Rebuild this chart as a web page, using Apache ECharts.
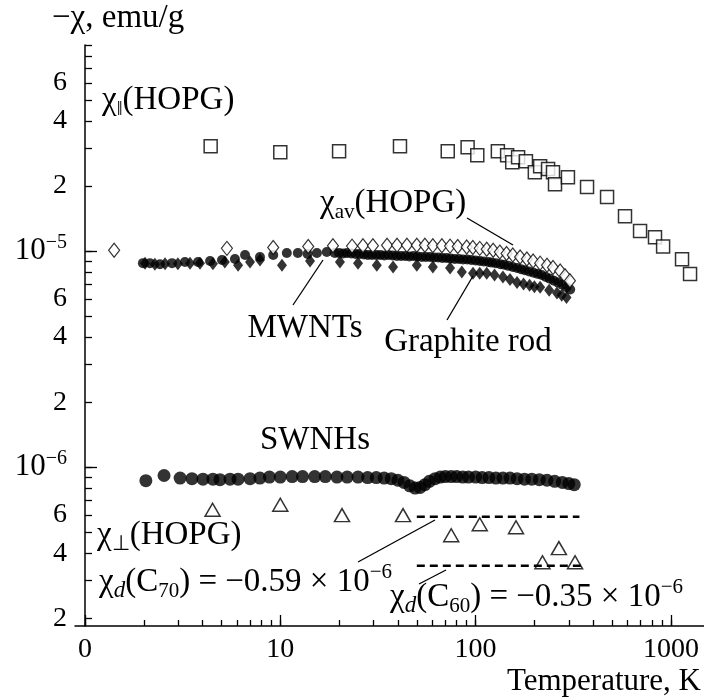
<!DOCTYPE html>
<html><head><meta charset="utf-8">
<script src="https://cdn.jsdelivr.net/npm/echarts@6/dist/echarts.min.js"></script>
<style>html,body{margin:0;padding:0;background:#fff}#c{width:704px;height:699px}</style>
</head><body><div id="c"></div>
<script>
// ---- data (values in units of 1e-6 emu/g, temperature in K) ----
const UNIT = 1e-6;
const hopgParT = [4.4, 10, 20, 41, 72, 91, 102, 130, 145, 154, 165, 181, 201, 214, 235, 249, 255, 297, 372, 471, 582, 695, 829, 912, 1140, 1253];
const hopgParV = [30.6, 28.7, 29.0, 30.6, 29.0, 30.3, 27.8, 29.0, 27.8, 25.8, 27.2, 26.1, 23.2, 24.7, 24.0, 23.2, 20.4, 22.0, 19.8, 17.8, 14.5, 12.4, 11.6, 10.5, 9.18, 7.83];

const hopgAvT = [1.41, 5.33, 9.2, 13.9, 18.6, 23.3, 26.5, 29.8, 35.2, 39.6, 44.5, 50, 55, 60.4, 67.2, 74, 81, 90, 96.8, 105, 114, 123, 133, 144, 155, 169, 183, 197, 214, 232, 249, 271, 287, 304];
const hopgAvV = [10.1, 10.3, 10.4, 10.5, 10.6, 10.55, 10.6, 10.6, 10.65, 10.65, 10.65, 10.65, 10.65, 10.6, 10.6, 10.55, 10.5, 10.45, 10.4, 10.3, 10.2, 10.1, 9.9, 9.75, 9.6, 9.4, 9.2, 9.0, 8.8, 8.6, 8.4, 8.1, 7.7, 7.3];

const rodT = [2.03, 2.28, 2.57, 2.99, 3.45, 3.88, 4.52, 5.2, 6.08, 7.0, 7.87, 10.2, 14.2, 20.2, 25.0, 31.2, 37.8, 50, 60.4, 74, 85, 97, 105, 114, 125, 138, 150, 163, 176, 189, 200, 214, 238, 261, 276, 292];
const rodV = [8.8, 8.7, 8.75, 8.75, 8.8, 8.8, 8.75, 8.9, 8.6, 8.9, 9.1, 8.6, 9.0, 8.9, 8.8, 8.6, 8.45, 8.6, 8.45, 8.35, 8.0, 7.9, 7.9, 7.9, 7.75, 7.6, 7.4, 7.15, 7.05, 6.95, 6.85, 6.8, 6.6, 6.4, 6.25, 6.1];

const mwntT = [1.98, 2.15, 2.42, 2.79, 3.25, 3.79, 4.37, 5.03, 5.86, 6.6, 7.87, 9.2, 10.8, 12.3, 13.8, 15.4, 17.3, 19, 20, 21, 22, 23.1, 24.3, 25.5, 26.8, 28.1, 29.5, 31, 32.5, 34.1, 35.8, 37.6, 39.5, 41.5, 43.6, 45.8, 48, 50.4, 53, 55.6, 58.4, 61.3, 64.4, 67.6, 71, 74.5, 78.2, 82.2, 86.3, 90.6, 95.1, 99.9, 105, 110, 116, 121, 127, 134, 140, 147, 155, 163, 171, 179, 188, 198, 208, 218, 229, 240, 252, 265, 278, 292, 305];
const mwntV = [8.8, 8.8, 8.7, 8.8, 8.9, 8.9, 9.0, 9.1, 9.2, 9.6, 9.4, 9.6, 9.8, 9.8, 9.7, 9.8, 9.9, 9.8, 9.8, 9.75, 9.8, 9.75, 9.7, 9.7, 9.65, 9.6, 9.6, 9.6, 9.6, 9.55, 9.6, 9.55, 9.5, 9.5, 9.5, 9.45, 9.5, 9.45, 9.4, 9.4, 9.4, 9.35, 9.35, 9.3, 9.3, 9.25, 9.2, 9.2, 9.15, 9.15, 9.1, 9.05, 9.0, 8.95, 8.9, 8.85, 8.8, 8.7, 8.65, 8.55, 8.45, 8.35, 8.25, 8.15, 8.05, 7.95, 7.85, 7.75, 7.6, 7.45, 7.3, 7.15, 7.0, 6.8, 6.65];

const swnhT = [2.05, 2.54, 3.07, 3.53, 4.02, 4.52, 4.91, 5.53, 6.08, 7.0, 7.86, 8.8, 10, 11.5, 13, 15, 17, 19.5, 22, 25, 28, 31, 34, 37, 40, 43, 46, 49, 52, 55, 58, 62, 66, 70, 75, 80, 86, 92, 100, 108, 117, 127, 138, 150, 163, 178, 194, 212, 232, 254, 278, 300, 320];
const swnhV = [0.866, 0.915, 0.89, 0.885, 0.88, 0.88, 0.875, 0.88, 0.88, 0.885, 0.89, 0.90, 0.90, 0.905, 0.905, 0.905, 0.905, 0.90, 0.90, 0.90, 0.895, 0.895, 0.89, 0.885, 0.87, 0.85, 0.82, 0.80, 0.805, 0.83, 0.86, 0.885, 0.90, 0.905, 0.905, 0.905, 0.90, 0.90, 0.90, 0.895, 0.895, 0.89, 0.89, 0.89, 0.885, 0.88, 0.88, 0.875, 0.87, 0.86, 0.85, 0.84, 0.83];

const hopgPerpT = [4.5, 10, 20.7, 42.5, 75, 105, 161, 220, 267, 323];
const hopgPerpV = [0.635, 0.67, 0.60, 0.60, 0.484, 0.544, 0.527, 0.363, 0.422, 0.363];

const c70LineT = [50, 340];
const c70LineV = [0.59, 0.59];
const c60LineT = [50, 360];
const c60LineV = [0.35, 0.35];

// ---- axes ----
const xRange = [0.889, 1477];
const yRange = [1.84e-7, 9e-5];
const xTickValues = [1,2,3,4,5,6,7,8,9,10,20,30,40,50,60,70,80,90,100,200,300,400,500,600,700,800,900,1000];
const xMajorTicks = [1, 10, 100, 1000];
const xLabelValues = [1, 10, 100, 1000];
const xLabelTexts = ['0', '10', '100', '1000'];
const yTickValues = [2e-7,3e-7,4e-7,5e-7,6e-7,7e-7,8e-7,9e-7,1e-6,2e-6,3e-6,4e-6,5e-6,6e-6,7e-6,8e-6,9e-6,1e-5,2e-5,3e-5,4e-5,5e-5,6e-5,7e-5,8e-5,9e-5];
const yMajorTicks = [1e-6, 1e-5];
const yLabelValues = [2e-7,4e-7,6e-7,1e-6,2e-6,4e-6,6e-6,1e-5,2e-5,4e-5,6e-5];
const yLabelTexts = ['2','4','6','10^−6','2','4','6','10^−5','2','4','6'];

const LG = Math.log10;
const toPts = (T, V) => T.map((t, i) => [LG(t), LG(V[i] * UNIT)]);
function nearest(arr, v) {
  let bi = 0, bd = Infinity;
  arr.forEach((a, i) => { const d = Math.abs(LG(a) - v); if (d < bd) { bd = d; bi = i; } });
  return bi;
}
const FONT = 'Liberation Serif';
const AF = 33; // annotation font size

const chart = echarts.init(document.getElementById('c'), null, {renderer: 'canvas'});
const black = '#000';
const tickStyle = {color: black, width: 1.3};

const option = {
  animation: false,
  backgroundColor: '#fff',
  grid: {left: 75, right: 0, top: 45, bottom: 73},
  xAxis: [
    {type: 'value', min: LG(xRange[0]), max: LG(xRange[1]), position: 'bottom',
     axisLine: {lineStyle: {color: black, width: 1.5}},
     axisTick: {inside: true, length: 6, lineStyle: tickStyle, customValues: xTickValues.map(LG)},
     axisLabel: {customValues: xLabelValues.map(LG), formatter: v => xLabelTexts[nearest(xLabelValues, v)],
       fontFamily: FONT, fontSize: 28, color: black, margin: 10},
     splitLine: {show: false}},
    {type: 'value', min: LG(xRange[0]), max: LG(xRange[1]), position: 'bottom',
     axisLine: {show: false},
     axisTick: {inside: true, length: 11, lineStyle: tickStyle, customValues: xMajorTicks.map(LG)},
     axisLabel: {show: false}, splitLine: {show: false}}
  ],
  yAxis: [
    {type: 'value', min: LG(yRange[0]), max: LG(yRange[1]), position: 'left',
     axisLine: {lineStyle: {color: black, width: 1.5}},
     axisTick: {inside: true, length: 7, lineStyle: tickStyle, customValues: yTickValues.map(LG)},
     axisLabel: {customValues: yLabelValues.map(LG),
       formatter: v => { const t = yLabelTexts[nearest(yLabelValues, v)]; if (t.indexOf('^') >= 0) { const p = t.split('^'); return '{b|' + p[0] + '}{s|' + p[1] + '}'; } return t; },
       fontFamily: FONT, fontSize: 28, color: black, margin: 8,
       rich: {b: {fontFamily: FONT, fontSize: 31, lineHeight: 36, color: black},
              s: {fontFamily: FONT, fontSize: 20, lineHeight: 20, verticalAlign: 'top', color: black}}},
     splitLine: {show: false}},
    {type: 'value', min: LG(yRange[0]), max: LG(yRange[1]), position: 'left',
     axisLine: {show: false},
     axisTick: {inside: true, length: 12, lineStyle: tickStyle, customValues: yMajorTicks.map(LG)},
     axisLabel: {show: false}, splitLine: {show: false}}
  ],
  series: [
    {name: 'C70', type: 'line', data: toPts(c70LineT, c70LineV), symbol: 'none',
     lineStyle: {color: black, width: 2.5, type: [8, 5]}},
    {name: 'C60', type: 'line', data: toPts(c60LineT, c60LineV), symbol: 'none',
     lineStyle: {color: black, width: 2.5, type: [8, 5]}},
    {name: 'SWNHs', type: 'scatter', data: toPts(swnhT, swnhV), symbol: 'circle', symbolSize: 13,
     itemStyle: {color: black}},
    {name: 'HOPG perp', type: 'scatter', data: toPts(hopgPerpT, hopgPerpV), symbol: 'triangle', symbolSize: [15, 13],
     itemStyle: {color: '#fff', borderColor: black, borderWidth: 1.5}},
    {name: 'Graphite rod', type: 'scatter', data: toPts(rodT, rodV), symbol: 'diamond', symbolSize: [10, 13],
     itemStyle: {color: black}},
    {name: 'MWNTs', type: 'scatter', data: toPts(mwntT, mwntV), symbol: 'circle', symbolSize: 10,
     itemStyle: {color: black}},
    {name: 'HOPG av', type: 'scatter', data: toPts(hopgAvT, hopgAvV), symbol: 'diamond', symbolSize: [11, 14],
     itemStyle: {color: '#fff', borderColor: black, borderWidth: 1.2}},
    {name: 'HOPG par', type: 'scatter', data: toPts(hopgParT, hopgParV), symbol: 'rect', symbolSize: 13,
     itemStyle: {color: '#fff', borderColor: black, borderWidth: 1.5}}
  ]
};

const rich = {
  n: {fontFamily: FONT, fontSize: AF, lineHeight: 40, fill: black},
  sub: {fontFamily: FONT, fontSize: 21, lineHeight: 21, verticalAlign: 'bottom', fill: black},
  subi: {fontFamily: FONT, fontSize: 23, fontStyle: 'italic', lineHeight: 23, verticalAlign: 'bottom', fill: black},
  sup: {fontFamily: FONT, fontSize: 21, lineHeight: 21, verticalAlign: 'top', fill: black},
  t: {fontFamily: FONT, fontSize: 31, lineHeight: 36, fill: black}
};
function txt(text, x, y, align) {
  return {type: 'text', z: 100, style: {text: text, x: x, y: y, textAlign: align || 'left', textVerticalAlign: 'middle',
    fontFamily: FONT, fontSize: AF, fill: black, rich: rich}};
}
function ln(x1, y1, x2, y2) {
  return {type: 'line', z: 100, shape: {x1: x1, y1: y1, x2: x2, y2: y2}, style: {stroke: black, lineWidth: 1.3}};
}
option.graphic = [
  txt('{n|−χ, emu/g}', 52, 18),
  txt('{n|χ}{sub|‖}{n|(HOPG)}', 102, 100),
  txt('{n|χ}{sub|av}{n|(HOPG)}', 320, 203),
  txt('{n|MWNTs}', 305, 328, 'center'),
  txt('{n|Graphite rod}', 468, 342, 'center'),
  txt('{n|SWNHs}', 315, 440, 'center'),
  txt('{n|χ}{sub|⊥}{n|(HOPG)}', 97, 535),
  txt('{n|χ}{subi|d}{n|(C}{sub|70}{n|) = −0.59 × 10}{sup|−6}', 99, 582),
  txt('{n|χ}{subi|d}{n|(C}{sub|60}{n|) = −0.35 × 10}{sup|−6}', 390, 597),
  txt('{t|Temperature, K}', 701, 682, 'right'),
  ln(467, 218, 513, 245),
  ln(323, 260, 293, 305),
  ln(473, 276, 447, 320),
  ln(358, 562, 435, 520),
  ln(419, 584, 446, 570)
];
chart.setOption(option);
</script></body></html>
